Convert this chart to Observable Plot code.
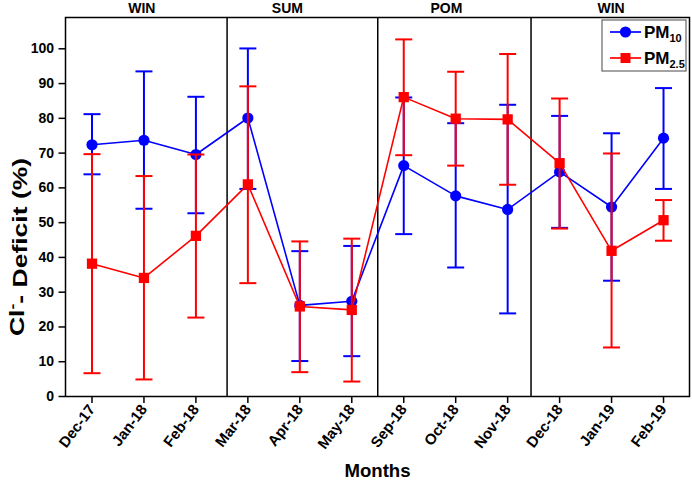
<!DOCTYPE html>
<html><head><meta charset="utf-8">
<script src="https://cdn.jsdelivr.net/npm/d3@7"></script>
<script src="https://cdn.jsdelivr.net/npm/@observablehq/plot@0.6"></script>
<style>
body{margin:0;background:#fff;}
#chart{position:relative;width:692px;height:480px;}
</style></head><body><div id="chart"></div>
<script>
const months = ["Dec-17","Jan-18","Feb-18","Mar-18","Apr-18","May-18","Sep-18","Oct-18","Nov-18","Dec-18","Jan-19","Feb-19"];
const pm10   = [72.4, 73.7, 69.6, 80.1, 26.2, 27.4, 66.4, 57.7, 53.8, 64.6, 54.5, 74.3];
const pm10Hi = [81.2, 93.5, 86.2, 100.1, 41.8, 43.3, 86.0, 78.6, 83.9, 80.7, 75.7, 88.7];
const pm10Lo = [63.9, 54.0, 52.7, 59.7, 10.2, 11.6, 46.7, 37.1, 23.9, 48.5, 33.3, 59.7];
const pm25   = [38.2, 34.1, 46.2, 61.0, 25.9, 24.9, 86.1, 79.9, 79.7, 67.1, 41.9, 50.7];
const pm25Hi = [69.7, 63.4, 69.6, 89.2, 44.6, 45.4, 102.7, 93.4, 98.5, 85.7, 69.9, 56.5];
const pm25Lo = [6.7, 4.9, 22.7, 32.6, 7.0, 4.3, 69.4, 66.4, 60.9, 48.3, 14.1, 44.8];
const seasons = ["WIN","SUM","POM","WIN"];
const seasonPos = [0.96, 3.76, 6.82, 9.99];
const dividers = [2.6, 5.5, 8.45];
const yTicks = [0,10,20,30,40,50,60,70,80,90,100];
const seriesNames = ["PM", "PM"];
const seriesSubs = ["10", "2.5"];
const BLUE = "#0000ff", RED = "#ff0000";
const FONT = "'Liberation Sans', Arial, Helvetica, sans-serif";
const YLABEL = "Cl- Deficit (%)";

const idx = months.map((m, i) => i);
const rows10 = idx.map(i => ({i, v: pm10[i], lo: pm10Lo[i], hi: pm10Hi[i]}));
const rows25 = idx.map(i => ({i, v: pm25[i], lo: pm25Lo[i], hi: pm25Hi[i]}));
const caps = rows => rows.flatMap(d => [{i: d.i, v: d.lo}, {i: d.i, v: d.hi}]);

const capSymbol = {draw(ctx, size) { const r = Math.sqrt(size / Math.PI); ctx.moveTo(-r, 0); ctx.lineTo(r, 0); }};

function series(rows, color, symbol, r) {
  return [
    Plot.line(rows, {x: "i", y: "v", stroke: color, strokeWidth: 1.6}),
    Plot.ruleX(rows, {x: "i", y1: "lo", y2: "hi", stroke: color, strokeWidth: 2}),
    Plot.dot(caps(rows), {x: "i", y: "v", symbol: capSymbol, r: 8.5, fill: "none", stroke: color, strokeWidth: 2}),
    Plot.dot(rows, {x: "i", y: "v", symbol, r, fill: color, stroke: "none"})
  ];
}

const svg = Plot.plot({
  width: 692, height: 480,
  marginLeft: 65, marginRight: 3, marginTop: 17, marginBottom: 84,
  style: {fontFamily: FONT, color: "black", background: "white", overflow: "visible"},
  x: {type: "linear", domain: [-0.51, 11.5]},
  y: {domain: [0, 109]},
  marks: [
    Plot.ruleX(dividers, {x: d => d, stroke: "black", strokeWidth: 1.5}),
    ...series(rows10, BLUE, "circle", 5.6),
    ...series(rows25, RED, "square", 5.8),
    Plot.frame({stroke: "black", strokeWidth: 1.5}),
    Plot.axisY(yTicks, {tickSize: 6.5, tickPadding: 5, fontSize: 14, fontWeight: "bold", label: null, strokeWidth: 1.5}),
    Plot.axisX(idx, {tickFormat: i => months[i], tickRotate: -53, tickSize: 7, tickPadding: 3, fontSize: 15, fontWeight: "bold", label: null, strokeWidth: 1.5}),
    Plot.text(seasons, {x: (d, i) => seasonPos[i], text: d => d, frameAnchor: "top", dy: -9, lineAnchor: "middle", fontSize: 14, fontWeight: "bold"}),
    Plot.text([YLABEL], {text: d => d, frameAnchor: "left", dx: -48, dy: 40, rotate: -90, lineAnchor: "middle", textAnchor: "middle", fontSize: 19.5, fontWeight: "bold"}),
    Plot.text(["Months"], {text: d => d, frameAnchor: "bottom", dy: 75, lineAnchor: "middle", fontSize: 18.6, fontWeight: "bold"})
  ]
});

// y label: superscript minus and stretch along its length
d3.select(svg).selectAll("text").filter(function() { return this.textContent === YLABEL; }).each(function() {
  const t = d3.select(this);
  const tr = t.attr("transform") || "";
  t.attr("transform", tr + " scale(1.36,1)");
  t.text(null);
  t.append("tspan").text("Cl");
  t.append("tspan").attr("dy", "-0.5em").attr("font-size", "13px").text("-");
  t.append("tspan").attr("dy", "0.5em").text("- Deficit (%)");
});

// legend
const lg = d3.select(svg).append("g").attr("font-family", FONT).attr("text-anchor", "start");
lg.append("rect").attr("x", 602).attr("y", 20).attr("width", 84).attr("height", 51)
  .attr("fill", "white").attr("stroke", "#666").attr("stroke-width", 1.2);
[[BLUE, "circle", 32], [RED, "square", 58]].forEach(([c, s, y], k) => {
  lg.append("line").attr("x1", 610).attr("x2", 641).attr("y1", y).attr("y2", y).attr("stroke", c).attr("stroke-width", 1.7);
  if (s === "circle") lg.append("circle").attr("cx", 625.5).attr("cy", y).attr("r", 5.6).attr("fill", c);
  else lg.append("rect").attr("x", 620.5).attr("y", y - 5).attr("width", 10).attr("height", 10).attr("fill", c);
  const t = lg.append("text").attr("x", 644).attr("y", y + 6).attr("font-size", 17).attr("font-weight", "bold").attr("fill", "black").attr("text-anchor", "start");
  t.append("tspan").text(seriesNames[k]);
  t.append("tspan").attr("dy", 4).attr("font-size", 11).text(seriesSubs[k]);
});

document.getElementById("chart").appendChild(svg);
</script></body></html>
